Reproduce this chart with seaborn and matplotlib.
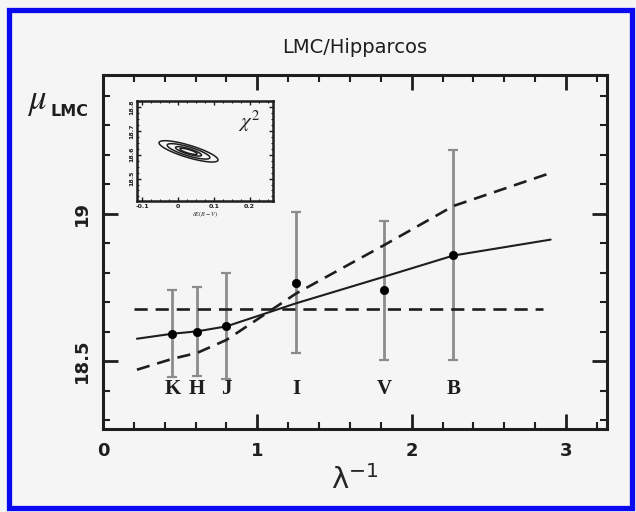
import numpy as np
import pandas as pd
import matplotlib
matplotlib.use("Agg")
import matplotlib.pyplot as plt
from matplotlib.patches import Rectangle
from matplotlib.ticker import MultipleLocator, FixedLocator
import seaborn as sns

# Distance modulus of the LMC from each photometric band
bands = ["K", "H", "J", "I", "V", "B"]
inv_lambda = [0.45, 0.61, 0.80, 1.25, 1.82, 2.27]
mu_lmc = [18.593, 18.600, 18.618, 18.766, 18.740, 18.860]
mu_err = [0.148, 0.150, 0.180, 0.240, 0.236, 0.357]

# Model curves
curve_x = [0.22, 0.45, 0.61, 0.80, 1.25, 1.82, 2.27, 2.90]
fit_solid = [18.576, 18.593, 18.601, 18.618, 18.696, 18.786, 18.858, 18.912]
fit_dashed = [18.471, 18.508, 18.528, 18.572, 18.729, 18.893, 19.026, 19.138]
flat_x = [0.20, 2.85]
flat_mu = [18.676, 18.676]

# Inset chi^2 surface: best fit and errors
chi_center = (0.029, 18.614)
chi_sigma = (0.0240, 0.0130)
chi_rho = -0.8
chi_levels = [1.0, 2.3, 6.17, 11.8]

sns.set_theme(style="ticks")
plt.rcParams["font.family"] = ["DejaVu Sans"]
plt.rcParams["mathtext.fontset"] = "stix"

BG = "#f5f5f5"
INK = "#1e1e1e"

fig = plt.figure(figsize=(6.36, 5.12), dpi=100, facecolor=BG)
W, H = 636, 512
ax = fig.add_axes([103 / W, 1 - 429 / H, (607 - 103) / W, (429 - 75) / H])
ax.set_facecolor(BG)

df = pd.DataFrame({"band": bands, "x": inv_lambda, "mu": mu_lmc, "err": mu_err})
curves = pd.DataFrame({"x": curve_x, "solid": fit_solid, "dashed": fit_dashed})
flat = pd.DataFrame({"x": flat_x, "mu": flat_mu})

# error bars
ax.errorbar(df["x"], df["mu"], yerr=df["err"], fmt="none", ecolor="#8c8c8c",
            elinewidth=2.0, capsize=3.5, capthick=1.6, zorder=2)

# model lines
sns.lineplot(data=flat, x="x", y="mu", ax=ax, color=INK, lw=1.9,
             linestyle=(0, (5, 3)), sort=False, zorder=3)
sns.lineplot(data=curves, x="x", y="dashed", ax=ax, color=INK, lw=1.9,
             linestyle=(0, (5, 3)), sort=False, zorder=3)
sns.lineplot(data=curves, x="x", y="solid", ax=ax, color=INK, lw=1.5,
             sort=False, zorder=3)

# measured points
sns.scatterplot(data=df, x="x", y="mu", ax=ax, color="black", s=36,
                edgecolor="black", linewidth=0.5, zorder=5, legend=False)

for b, xv in zip(bands, inv_lambda):
    ax.text(xv, 18.405, b, ha="center", va="center", fontsize=15,
            fontweight="bold", family="Liberation Serif", color=INK)

ax.set_xlim(0, 3.265)
ax.set_ylim(18.27, 19.47)
ax.xaxis.set_major_locator(FixedLocator([0, 1, 2, 3]))
ax.xaxis.set_minor_locator(MultipleLocator(0.2))
ax.yaxis.set_major_locator(FixedLocator([18.5, 19.0]))
ax.yaxis.set_minor_locator(MultipleLocator(0.1))
ax.set_xticklabels(["0", "1", "2", "3"], fontsize=13, fontweight="bold")
ax.set_yticklabels(["18.5", "19"], fontsize=13, fontweight="bold",
                   rotation=90, va="center")
ax.tick_params(which="both", direction="in", top=True, right=True, colors=INK)
ax.tick_params(which="major", length=11, width=2.0, pad=9)
ax.tick_params(which="minor", length=5, width=1.5)
for s in ax.spines.values():
    s.set_linewidth(2.2)
    s.set_color(INK)

ax.set_xlabel(r"$\mathrm{\lambda}^{\mathrm{-1}}$", fontsize=21,
              math_fontfamily="dejavusans", labelpad=4)
ax.set_ylabel("")
fig.text(27 / W, 1 - 101 / H, r"$\mu$", fontsize=25, ha="left", va="center",
         color=INK)
fig.text(51 / W, 1 - 112 / H, "LMC", fontsize=11.5, fontweight="bold",
         ha="left", va="center", color=INK)
ax.set_title("LMC/Hipparcos", fontsize=14, pad=16, color=INK)

# inset: chi^2 contours
ins = fig.add_axes([137 / W, 1 - 201 / H, 136 / W, 100 / H])
ins.set_facecolor(BG)
gx = np.linspace(-0.115, 0.265, 300)
gy = np.linspace(18.406, 18.825, 300)
GX, GY = np.meshgrid(gx, gy)
dx = (GX - chi_center[0]) / chi_sigma[0]
dy = (GY - chi_center[1]) / chi_sigma[1]
chi2 = (dx ** 2 - 2 * chi_rho * dx * dy + dy ** 2) / (1 - chi_rho ** 2)
ins.contour(GX, GY, chi2, levels=chi_levels, colors=INK, linewidths=1.1)
ins.set_xlim(-0.115, 0.265)
ins.set_ylim(18.406, 18.825)
ins.xaxis.set_major_locator(FixedLocator([-0.1, 0.0, 0.1, 0.2]))
ins.xaxis.set_minor_locator(MultipleLocator(0.025))
ins.yaxis.set_major_locator(FixedLocator([18.5, 18.6, 18.7, 18.8]))
ins.yaxis.set_minor_locator(MultipleLocator(0.025))
ins.set_xticklabels(["-0.1", "0", "0.1", "0.2"], fontsize=4.5, fontweight="bold")
ins.set_yticklabels(["18.5", "18.6", "18.7", "18.8"], fontsize=4.5,
                    fontweight="bold", rotation=90, va="center")
ins.tick_params(which="both", direction="in", top=True, right=True, pad=2,
                colors=INK)
ins.tick_params(which="major", length=3, width=1.0)
ins.tick_params(which="minor", length=1.5, width=0.8)
for s in ins.spines.values():
    s.set_linewidth(1.8)
    s.set_color(INK)
ins.set_xlabel(r"$\delta E(B-V)$", fontsize=4.5, labelpad=1)
ins.text(0.82, 0.80, r"$\chi^2$", transform=ins.transAxes, fontsize=15,
         ha="center", va="center", color=INK)

# blue page frame
fig.patches.append(Rectangle((8.5 / W, 1 - 507.5 / H), (632 - 8.5) / W,
                             (507.5 - 9.5) / H, transform=fig.transFigure,
                             fill=False, edgecolor="#0a0af0", linewidth=3.8))

fig.savefig("out.png", dpi=100, facecolor=BG)
